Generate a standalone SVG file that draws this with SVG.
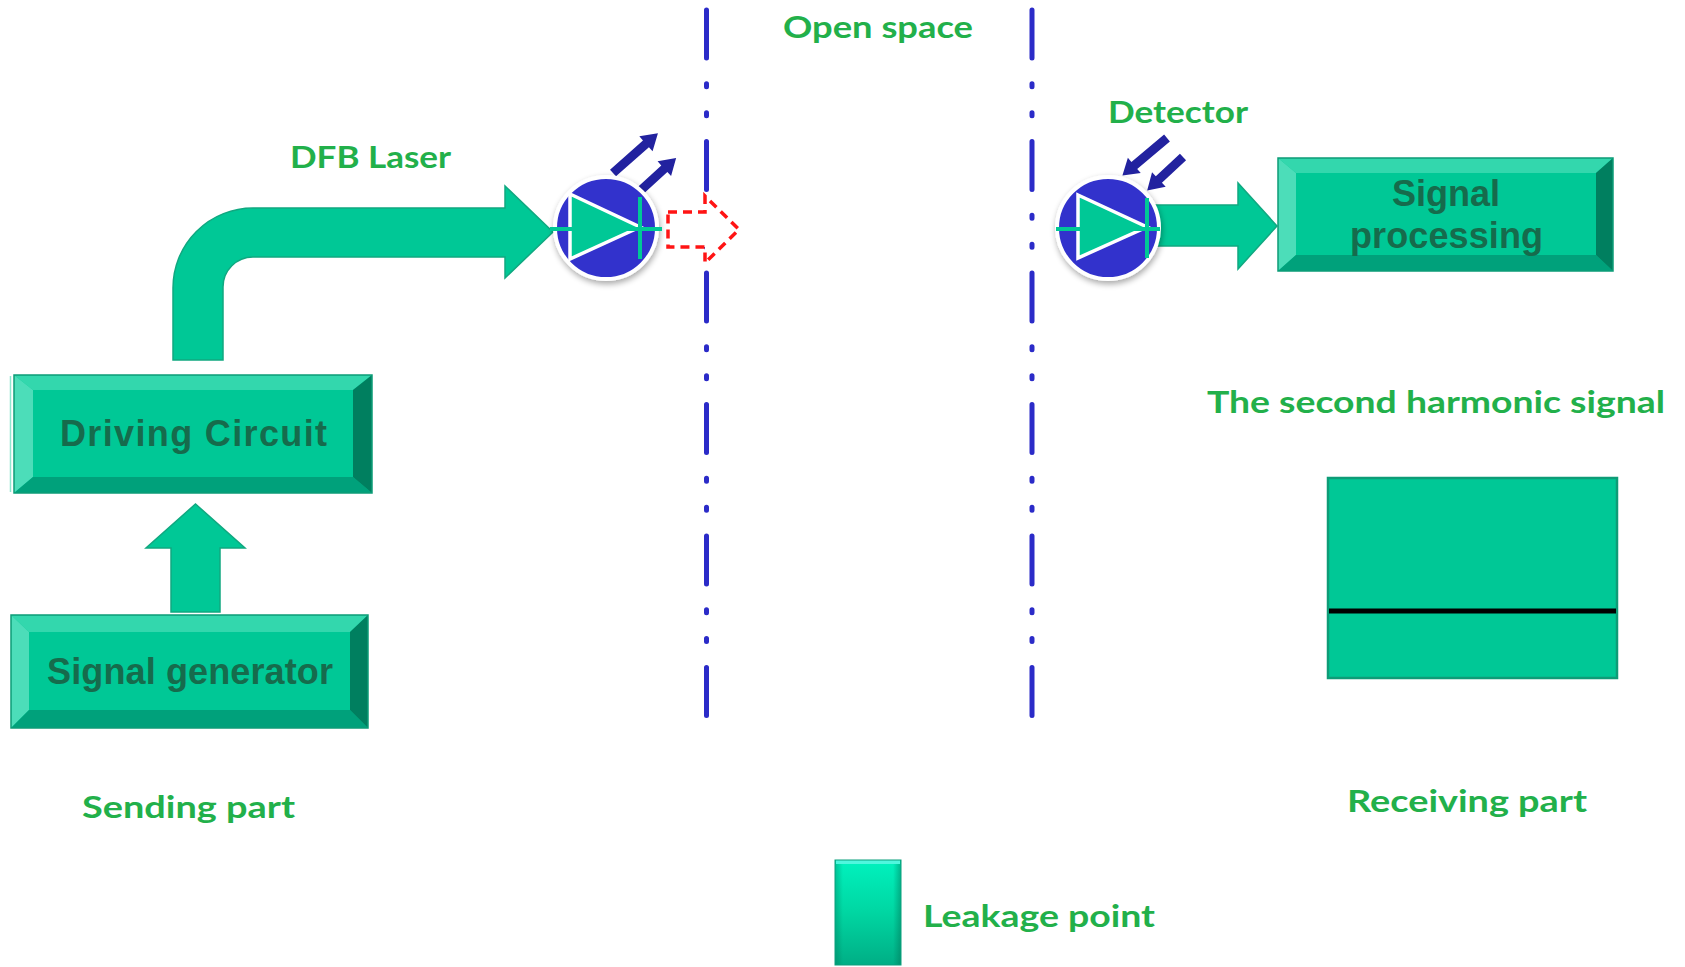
<svg xmlns="http://www.w3.org/2000/svg" width="1685" height="967" viewBox="0 0 1685 967">
<style>
.lbl{font-family:Lato,"Open Sans","DejaVu Sans",sans-serif;font-weight:700;font-size:31px;fill:#22B04A;}
.btxt{font-family:"Liberation Sans",Arial,sans-serif;font-weight:700;font-size:36px;fill:#166B4C;text-anchor:middle;}
.face{fill:#00C896;}
.bt{fill:#33D7AD;}
.bl{fill:#4CDDB9;}
.bb{fill:#00A17B;}
.br{fill:#007F5F;}
.edge{fill:none;stroke:#0C9C77;stroke-width:1.5;}
.gfill{fill:#00C896;stroke:#10A880;stroke-width:1.5;}
.sep{stroke:#2B2BC8;stroke-width:5;stroke-linecap:round;stroke-dasharray:48 25.83 3 25.83 3 25.83;fill:none;}
.ray{fill:#22229F;}
.diode-body{fill:#3333CC;stroke:#ffffff;stroke-width:4;}
.tri{fill:#00C896;stroke:#ffffff;stroke-width:3.5;stroke-linejoin:miter;}
.gline{stroke:#00C896;stroke-width:4;}
</style>
<defs>
<filter id="shadow" x="-30%" y="-30%" width="160%" height="160%">
<feGaussianBlur in="SourceAlpha" stdDeviation="3"/>
<feOffset dx="1" dy="3" result="b"/>
<feComponentTransfer><feFuncA type="linear" slope="0.35"/></feComponentTransfer>
<feMerge><feMergeNode/><feMergeNode in="SourceGraphic"/></feMerge>
</filter>
<linearGradient id="leakV" x1="0" y1="0" x2="0" y2="1">
<stop offset="0" stop-color="#00F2BE"/>
<stop offset="0.5" stop-color="#00D6A2"/>
<stop offset="1" stop-color="#00AE85"/>
</linearGradient>
<linearGradient id="leakH" x1="0" y1="0" x2="1" y2="0">
<stop offset="0" stop-color="#006E52" stop-opacity="0.35"/>
<stop offset="0.12" stop-color="#006E52" stop-opacity="0"/>
<stop offset="0.88" stop-color="#006E52" stop-opacity="0"/>
<stop offset="1" stop-color="#006E52" stop-opacity="0.45"/>
</linearGradient>
<path id="rayR" d="M0,-4.5 L44,-4.5 L44,-10 L60,0 L44,10 L44,4.5 L0,4.5 Z"/>
<path id="rayS" d="M0,-4.5 L33,-4.5 L33,-10 L49,0 L33,10 L33,4.5 L0,4.5 Z"/>
</defs>
<rect width="1685" height="967" fill="#ffffff"/>

<g id="separators">
<line class="sep" x1="706.5" y1="10" x2="706.5" y2="722"/>
<line class="sep" x1="1032" y1="10" x2="1032" y2="722"/>
</g>

<g id="connectors">
<path id="arrow-drive-laser" class="gfill" d="M173,360 L173,288 A80,80 0 0 1 253,208 L505,208 L505,186 L553,232 L505,278 L505,257 L253,257 A30,30 0 0 0 223,287 L223,360 Z"/>
<path id="arrow-gen-drive" class="gfill" d="M171,612 L171,548 L146,548 L195.5,504 L245,548 L220,548 L220,612 Z"/>
<path id="arrow-det-proc" class="gfill" d="M1150,205 L1238,205 L1238,183 L1277,226 L1238,269 L1238,246 L1150,246 Z"/>
<path id="leak-arrow" d="M668,212 L705,212 L705,196 L739,229.5 L705,263 L705,247 L668,247 Z" fill="#ffffff" stroke="#FF1414" stroke-width="3.5" stroke-dasharray="9 6"/>
</g>

<g id="driving-circuit">
<line x1="10.5" y1="376" x2="10.5" y2="492" stroke="#8EE6CF" stroke-width="1.5"/>
<rect class="face" x="14" y="375" width="358" height="118"/>
<polygon class="bt" points="14,375 372,375 353,390 33,390"/>
<polygon class="bl" points="14,375 33,390 33,477 14,493"/>
<polygon class="bb" points="14,493 33,477 353,477 372,493"/>
<polygon class="br" points="372,375 372,493 353,477 353,390"/>
<rect class="edge" x="14" y="375" width="358" height="118"/>
<text class="btxt" x="193.5" y="446" textLength="267">Driving Circuit</text>
</g>

<g id="signal-generator">
<rect class="face" x="11" y="615" width="357" height="113"/>
<polygon class="bt" points="11,615 368,615 350,632 29,632"/>
<polygon class="bl" points="11,615 29,632 29,710 11,728"/>
<polygon class="bb" points="11,728 29,710 350,710 368,728"/>
<polygon class="br" points="368,615 368,728 350,710 350,632"/>
<rect class="edge" x="11" y="615" width="357" height="113"/>
<text class="btxt" x="190" y="684" textLength="286">Signal generator</text>
</g>

<g id="signal-processing">
<rect class="face" x="1278" y="158" width="335" height="113"/>
<polygon class="bt" points="1278,158 1613,158 1596,173 1296,173"/>
<polygon class="bl" points="1278,158 1296,173 1296,255 1278,271"/>
<polygon class="bb" points="1278,271 1296,255 1596,255 1613,271"/>
<polygon class="br" points="1613,158 1613,271 1596,255 1596,173"/>
<rect class="edge" x="1278" y="158" width="335" height="113"/>
<text class="btxt" x="1446" y="206" textLength="108">Signal</text>
<text class="btxt" x="1446.5" y="248" textLength="193">processing</text>
</g>

<g id="dfb-laser">
<g transform="translate(613,173) rotate(-41.5)"><use href="#rayR" class="ray"/></g>
<g transform="translate(640,191) rotate(-42.5)"><use href="#rayS" class="ray"/></g>
<circle class="diode-body" cx="606" cy="228" r="51" filter="url(#shadow)"/>
<polygon class="tri" points="570,194 640,227 570,259"/>
<line class="gline" x1="640" y1="197" x2="640" y2="259"/>
<line class="gline" x1="550" y1="229" x2="662" y2="229"/>
</g>

<g id="detector">
<g transform="translate(1167,138) rotate(140)"><use href="#rayR" class="ray" transform="scale(0.97,1)"/></g>
<g transform="translate(1183,157) rotate(137)"><use href="#rayS" class="ray"/></g>
<circle class="diode-body" cx="1108" cy="228" r="51" filter="url(#shadow)"/>
<polygon class="tri" points="1078,195 1147,227 1078,258"/>
<line class="gline" x1="1147" y1="198" x2="1147" y2="258"/>
<line class="gline" x1="1056" y1="229" x2="1160" y2="229"/>
</g>

<g id="harmonic-signal">
<rect x="1328" y="478" width="289" height="200" fill="#00C896" stroke="#0E9C77" stroke-width="2.5"/>
<rect x="1329" y="608.5" width="287" height="5" fill="#000000"/>
</g>

<g id="leakage-legend">
<rect x="835" y="860" width="66" height="105" fill="url(#leakV)"/>
<rect x="835" y="860" width="66" height="105" fill="url(#leakH)"/>
<rect x="836" y="860" width="64" height="4" fill="#4FF6DE"/>
<rect x="835" y="860" width="66" height="105" fill="none" stroke="#0BA07C" stroke-width="1"/>
</g>

<g id="labels">
<text class="lbl" x="878" y="38" text-anchor="middle" textLength="190" lengthAdjust="spacingAndGlyphs">Open space</text>
<text class="lbl" x="370.5" y="168" text-anchor="middle" textLength="161" lengthAdjust="spacingAndGlyphs">DFB Laser</text>
<text class="lbl" x="1178" y="123" text-anchor="middle" textLength="140" lengthAdjust="spacingAndGlyphs">Detector</text>
<text class="lbl" x="1436" y="413" text-anchor="middle" textLength="458" lengthAdjust="spacingAndGlyphs">The second harmonic signal</text>
<text class="lbl" x="188.5" y="818" text-anchor="middle" textLength="213" lengthAdjust="spacingAndGlyphs">Sending part</text>
<text class="lbl" x="1467" y="812" text-anchor="middle" textLength="240" lengthAdjust="spacingAndGlyphs">Receiving part</text>
<text class="lbl" x="923" y="927" textLength="232" lengthAdjust="spacingAndGlyphs">Leakage point</text>
</g>
</svg>
